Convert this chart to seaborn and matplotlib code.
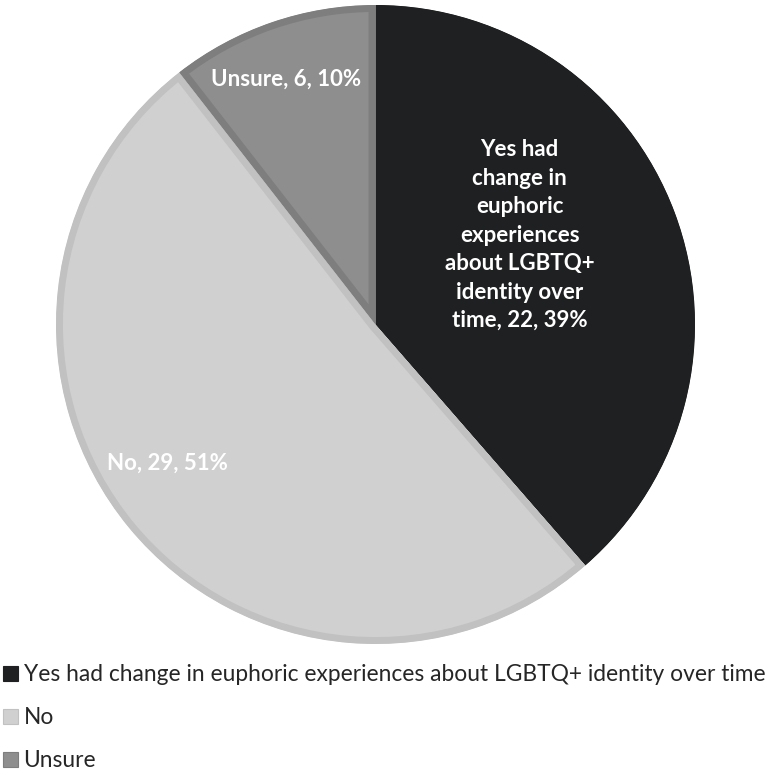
import matplotlib
matplotlib.use("Agg")
import matplotlib.pyplot as plt
from matplotlib.patches import Patch
import seaborn as sns

# Survey responses
categories = [
    "Yes had change in euphoric experiences about LGBTQ+ identity over time",
    "No",
    "Unsure",
]
slice_labels = [
    "Yes had\nchange in\neuphoric\nexperiences\nabout LGBTQ+\nidentity over\ntime",
    "No",
    "Unsure",
]
counts = [22, 29, 6]
percents = [39, 51, 10]

fills = ["#1f2022", "#d0d0d0", "#8e8e8e"]
edges = ["#1f2022", "#c1c1c1", "#7e7e7e"]

sns.set_theme(style="white")
plt.rcParams["font.family"] = ["Lato", "DejaVu Sans"]

fig = plt.figure(figsize=(7.68, 7.73), dpi=100)
ax = fig.add_axes([56 / 768, 1 - 644 / 773, 639 / 768, 639 / 773])

wedges, _ = ax.pie(
    counts,
    colors=fills,
    startangle=90,
    counterclock=False,
    radius=1.0,
    wedgeprops=dict(linewidth=0),
)
# inner bevel band along each slice's border
for w, ec in zip(wedges, edges):
    w.set_edgecolor(ec)
    w.set_linewidth(10)
    w.set_clip_on(True)
    w.set_clip_path(w)

ax.set_xlim(-1.0, 1.0)
ax.set_ylim(-1.0, 1.0)
ax.set_axis_off()

label_pos = [(0.451, 0.28), (-0.652, -0.433), (-0.279, 0.768)]
for txt, n, p, (x, y) in zip(slice_labels, counts, percents, label_pos):
    ax.text(x, y, f"{txt}, {n}, {p}%", ha="center", va="center",
            color="white", fontsize=16, fontweight="bold",
            linespacing=1.44)

handles = [Patch(facecolor=f, edgecolor=e, linewidth=0.8) for f, e in zip(fills, edges)]
fig.legend(
    handles, categories,
    loc="upper left", bbox_to_anchor=(0.0, 1 - 661 / 773),
    frameon=False, fontsize=16.35,
    handlelength=0.64, handleheight=0.64, handletextpad=0.25,
    labelspacing=0.97, borderaxespad=0, borderpad=0.15,
)

fig.savefig("out.png", dpi=100)
